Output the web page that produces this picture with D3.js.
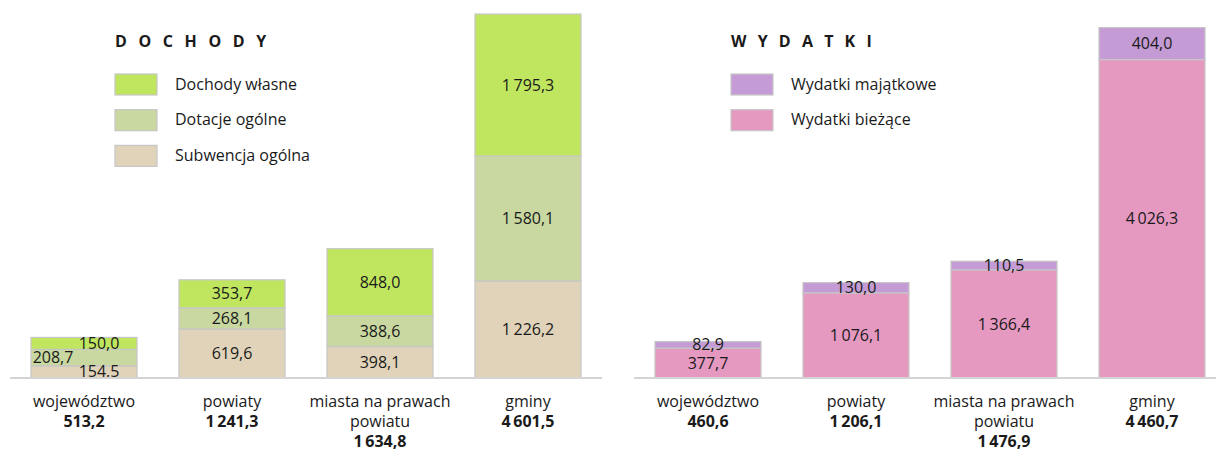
<!DOCTYPE html>
<html>
<head>
<meta charset="utf-8">
<script src="https://cdn.jsdelivr.net/npm/d3@7"></script>
<style>
  body { margin: 0; background: #fff; }
  text { font-family: "Open Sans", sans-serif; fill: #1a1a1a; }
</style>
</head>
<body>
<script>
// categories (multi-line labels under the bars)
var categories = ['województwo', 'powiaty', 'miasta na prawach powiatu', 'gminy'];
var categoryLines = [['województwo'], ['powiaty'], ['miasta na prawach', 'powiatu'], ['gminy']];

// DOCHODY (bottom -> top)
var incomeKeys = ['Subwencja ogólna', 'Dotacje ogólne', 'Dochody własne'];
var subwencja = [154.5, 619.6, 398.1, 1226.2];
var dotacje = [208.7, 268.1, 388.6, 1580.1];
var wlasne = [150.0, 353.7, 848.0, 1795.3];
var incomeTotals = [513.2, 1241.3, 1634.8, 4601.5];

// WYDATKI (bottom -> top)
var expenseKeys = ['Wydatki bieżące', 'Wydatki majątkowe'];
var biezace = [377.7, 1076.1, 1366.4, 4026.3];
var majatkowe = [82.9, 130.0, 110.5, 404.0];
var expenseTotals = [460.6, 1206.1, 1476.9, 4460.7];

var width = 1216, height = 451;
var baseY = 378;

var pl = d3.formatLocale({decimal: ',', thousands: '\u2009', grouping: [3], currency: ['', '']});
var fmt = pl.format(',.1f');

var svg = d3.select('body').append('svg')
    .attr('width', width)
    .attr('height', height);

// one vertical scale for both panels
var y = d3.scaleLinear().domain([0, 4615]).range([baseY, 13]);

drawPanel({
    title: 'DOCHODY',
    range: [10, 602],
    legendX: 115,
    keys: incomeKeys,
    series: [subwencja, dotacje, wlasne],
    colors: ['#e0d3b9', '#c8d8a0', '#c0e660'],
    totals: incomeTotals,
    titleSpacing: 11.6,
    // small bars: labels shifted sideways so they don't collide
    nudge: {'0|Subwencja ogólna': 15, '0|Dotacje ogólne': -31, '0|Dochody własne': 15}
});

drawPanel({
    title: 'WYDATKI',
    range: [634, 1226],
    legendX: 731,
    keys: expenseKeys,
    series: [biezace, majatkowe],
    colors: ['#e599c1', '#c59bd6'],
    totals: expenseTotals,
    titleSpacing: 11.2,
    nudge: {}
});

function drawPanel(o) {
    var g = svg.append('g');

    var x = d3.scaleBand()
        .domain(categories)
        .range(o.range)
        .paddingInner(0.2838)
        .paddingOuter(0.1419);

    var rows = categories.map(function (c, i) {
        var r = {cat: c, idx: i};
        o.keys.forEach(function (k, j) { r[k] = o.series[j][i]; });
        return r;
    });

    var stacked = d3.stack().keys(o.keys)(rows);
    var color = d3.scaleOrdinal().domain(o.keys).range(o.colors);

    var layer = g.selectAll('g.layer')
        .data(stacked)
        .enter().append('g')
        .attr('class', 'layer')
        .attr('fill', function (d) { return color(d.key); });

    layer.selectAll('rect')
        .data(function (d) { return d; })
        .enter().append('rect')
        .attr('x', function (d) { return x(d.data.cat); })
        .attr('y', function (d) { return y(d[1]); })
        .attr('width', x.bandwidth())
        .attr('height', function (d) { return y(d[0]) - y(d[1]); })
        .attr('stroke', '#c6c6c6')
        .attr('stroke-width', 1.2);

    // segment values
    stacked.forEach(function (s) {
        g.selectAll(null)
            .data(s)
            .enter().append('text')
            .attr('x', function (d) {
                var n = o.nudge[d.data.idx + '|' + s.key] || 0;
                return x(d.data.cat) + x.bandwidth() / 2 + n;
            })
            .attr('y', function (d) { return (y(d[0]) + y(d[1])) / 2; })
            .attr('dy', '0.35em')
            .attr('text-anchor', 'middle')
            .style('font-size', '16px')
            .text(function (d) { return fmt(d.data[s.key]); });
    });

    // baseline
    g.append('line')
        .attr('x1', o.range[0]).attr('x2', o.range[1])
        .attr('y1', baseY).attr('y2', baseY)
        .attr('stroke', '#d4d4d4')
        .attr('stroke-width', 2);

    // category labels + totals
    var cat = g.selectAll('g.cat')
        .data(categories)
        .enter().append('g')
        .attr('class', 'cat')
        .attr('transform', function (d) {
            return 'translate(' + (x(d) + x.bandwidth() / 2) + ',' + 407 + ')';
        });

    cat.each(function (d, i) {
        var lines = categoryLines[i];
        var sel = d3.select(this);
        lines.forEach(function (l, j) {
            sel.append('text')
                .attr('y', j * 20)
                .attr('text-anchor', 'middle')
                .style('font-size', '16px')
                .text(l);
        });
        sel.append('text')
            .attr('y', lines.length * 20)
            .attr('text-anchor', 'middle')
            .style('font-size', '16px')
            .style('font-weight', 'bold')
            .text(fmt(o.totals[i]));
    });

    // legend
    var lg = g.append('g').attr('transform', 'translate(' + o.legendX + ',0)');

    lg.append('text')
        .attr('y', 46.7)
        .style('font-size', '16px')
        .style('font-weight', 'bold')
        .style('letter-spacing', o.titleSpacing + 'px')
        .text(o.title);

    var legendKeys = o.keys.slice().reverse();
    var item = lg.selectAll('g.item')
        .data(legendKeys)
        .enter().append('g')
        .attr('class', 'item')
        .attr('transform', function (d, i) { return 'translate(0,' + (74 + i * 35.7) + ')'; });

    item.append('rect')
        .attr('width', 42)
        .attr('height', 21)
        .attr('fill', function (d) { return color(d); })
        .attr('stroke', '#c6c6c6')
        .attr('stroke-width', 1.2);

    item.append('text')
        .attr('x', 60)
        .attr('y', 15.5)
        .style('font-size', '16px')
        .text(function (d) { return d; });
}
</script>
</body>
</html>
